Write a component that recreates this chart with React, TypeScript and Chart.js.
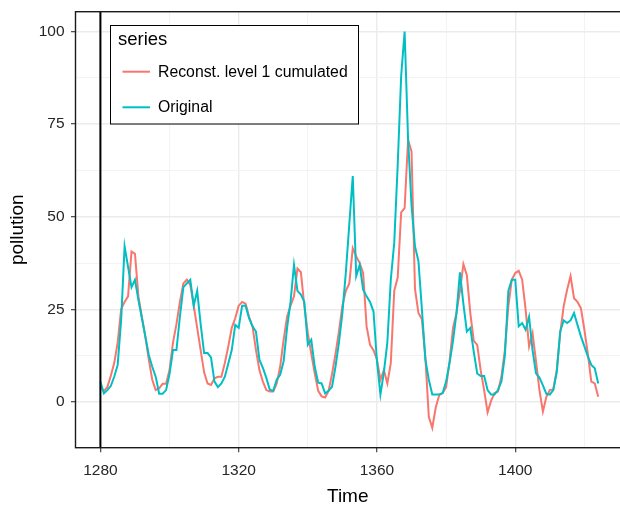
import React, { useEffect, useRef } from 'react';
import { Chart, registerables } from 'chart.js';

Chart.register(...registerables);

// ---- data ----
const startTime = 1280;
const original = [
  5.5, 2.3, 3.2, 4.3, 6.8, 10, 22, 42, 36.5, 31,
  33, 27.5, 22.6, 17.7, 12.7, 9.5, 6.8, 2.2, 2.2, 3.2,
  7.5, 14, 14, 23, 31, 32, 33, 26, 30, 21,
  13.2, 13.2, 12, 5.5, 4, 5, 6.8, 10.4, 14, 20.8,
  20, 26, 26, 22.6, 20.4, 19, 11.4, 9.2, 6.5, 3.3,
  3, 6, 7.3, 11, 20, 27, 37, 30, 29, 27,
  15.4, 16.8, 9.5, 5.2, 5, 2.3, 3, 4.1, 9.5, 16,
  24, 35, 48, 61, 34, 37, 30.3, 28.5, 27, 24.4,
  11, 2, 8, 16, 33, 43, 64, 88, 100, 71,
  53, 42, 38, 25, 11.5, 6, 2, 2, 2, 2.4,
  5.5, 10.5, 16.5, 24, 35, 26.5, 19, 20, 13.5, 7.7,
  7, 7, 3.2, 2, 2, 3.2, 5.5, 12.5, 30, 33,
  33, 20.4, 21.3, 19.5, 23, 14, 7.7, 6.6, 4.5, 2.2,
  2, 3.2, 8, 19, 22, 21.3, 22, 24, 20.8, 17.7,
  15, 12.3, 10, 9.1, 5,
];
const reconst = [
  4, 3, 4, 7, 10.5, 16, 25, 27, 28.5, 40.6,
  40, 28.5, 23, 17.6, 11.4, 6, 3.2, 3.7, 4.9, 4.9,
  8.6, 16, 21, 27, 32, 33, 31.6, 26, 20, 14,
  8, 5, 4.6, 6.4, 6.8, 6.8, 10.5, 15, 20, 22.6,
  26, 27, 26.5, 23, 20.4, 14, 8.6, 5.5, 3.2, 2.8,
  2.8, 5, 9.5, 16.8, 23, 26, 28.5, 36, 35, 25.8,
  18.6, 13, 7.7, 3, 1.5, 1.2, 3, 7.5, 13, 19,
  26, 30, 32, 41.5, 39.3, 37.5, 34.8, 20.4, 15.4, 14,
  11.4, 6, 8.6, 5, 10.5, 30, 33.6, 51.2, 52.3, 70.8,
  67.6, 30.5, 24, 22.3, 12, -4, -7, -1.5, 1.8, 2.4,
  4, 11, 20, 24, 30, 37.2, 34.2, 24, 16.5, 15.4,
  8.5, 3.2, -2.8, 0.3, 2.4, 2.8, 6.8, 14, 25.8, 33,
  34.8, 35.4, 33, 24.9, 15, 18.6, 11, 3.2, -2.6, 1.4,
  3.2, 3.4, 8.6, 18.6, 25.8, 30.3, 34, 28, 27, 25.3,
  19.5, 13, 5.5, 5, 1.4,
];
const seriesNames = ['Reconst. level 1 cumulated', 'Original'];
const seriesColors = ['#F8766D', '#00BFC4'];
const xMajorTicks = [1280, 1320, 1360, 1400];
const xMinorTicks = [1300, 1340, 1380, 1420];
const yMajorTicks = [0, 25, 50, 75, 100];
const yMinorTicks = [12.5, 37.5, 62.5, 87.5];
const vlineAt = 1280;

const FONT = '"Liberation Sans", Arial, Helvetica, sans-serif';

const toPoints = (vals: number[]) => vals.map((y, i) => ({ x: startTime + i, y }));

const isMajor = (list: number[], v: number) => list.some((m) => Math.abs(m - v) < 1e-6);

const decorPlugin = {
  id: 'ggDecor',
  afterDatasetsDraw(chart: any) {
    const { ctx, chartArea, scales } = chart;
    ctx.save();
    // vertical reference line
    const vx = scales.x.getPixelForValue(vlineAt);
    ctx.strokeStyle = '#000';
    ctx.lineWidth = 2;
    ctx.beginPath();
    ctx.moveTo(vx, chartArea.top);
    ctx.lineTo(vx, chartArea.bottom);
    ctx.stroke();
    // panel border
    ctx.lineWidth = 1.4;
    ctx.strokeStyle = '#1a1a1a';
    ctx.strokeRect(chartArea.left, chartArea.top, chartArea.right - chartArea.left + 20, chartArea.bottom - chartArea.top);
    ctx.restore();
  },
  afterDraw(chart: any) {
    const ctx = chart.ctx;
    ctx.save();
    const bx = 110.5, by = 25.5, bw = 248, bh = 98.5;
    ctx.fillStyle = '#ffffff';
    ctx.fillRect(bx, by, bw, bh);
    ctx.strokeStyle = '#000';
    ctx.lineWidth = 1;
    ctx.strokeRect(bx, by, bw, bh);
    ctx.fillStyle = '#000';
    ctx.textBaseline = 'middle';
    ctx.textAlign = 'left';
    ctx.font = `18.5px ${FONT}`;
    ctx.fillText('series', 118, 39.5);
    const rows = [71.7, 107.3];
    ctx.font = `15.8px ${FONT}`;
    seriesNames.forEach((name, i) => {
      ctx.strokeStyle = seriesColors[i];
      ctx.lineWidth = 2;
      ctx.beginPath();
      ctx.moveTo(122.5, rows[i]);
      ctx.lineTo(150, rows[i]);
      ctx.stroke();
      ctx.fillStyle = '#000';
      ctx.fillText(name, 158, rows[i] + 0.5);
    });
    ctx.restore();
  },
};

export default function App() {
  const canvasRef = useRef<HTMLCanvasElement | null>(null);

  useEffect(() => {
    if (!canvasRef.current) return;
    const chart = new Chart(canvasRef.current, {
      type: 'line',
      data: {
        datasets: [
          {
            label: seriesNames[1],
            data: toPoints(original),
            borderColor: seriesColors[1],
            borderWidth: 2,
            pointRadius: 0,
            tension: 0,
            fill: false,
          },
          {
            label: seriesNames[0],
            data: toPoints(reconst),
            borderColor: seriesColors[0],
            borderWidth: 2,
            pointRadius: 0,
            tension: 0,
            fill: false,
          },
        ],
      },
      options: {
        animation: false,
        responsive: false,
        maintainAspectRatio: false,
        parsing: false as any,
        layout: { padding: { top: 11.7, left: 0, right: 0, bottom: 0 } },
        plugins: {
          legend: { display: false },
          tooltip: { enabled: false },
        },
        scales: {
          x: {
            type: 'linear',
            min: 1272.8,
            max: 1430.3,
            afterBuildTicks: (scale: any) => {
              scale.ticks = [...xMajorTicks, ...xMinorTicks].sort((a, b) => a - b).map((v) => ({ value: v }));
            },
            afterFit: (scale: any) => {
              scale.height = 60.3;
              scale.paddingLeft = 0;
              scale.paddingRight = 0;
            },
            ticks: {
              autoSkip: false,
              maxRotation: 0,
              padding: 9,
              color: '#262626',
              font: { family: FONT, size: 15.5 },
              callback: (v: any) => (isMajor(xMajorTicks, Number(v)) ? String(v) : ''),
            },
            grid: {
              color: (c: any) => (isMajor(xMajorTicks, c.tick?.value) ? '#EBEBEB' : '#F2F2F2'),
              lineWidth: (c: any) => (isMajor(xMajorTicks, c.tick?.value) ? 1.4 : 0.9),
              tickColor: (c: any) => (isMajor(xMajorTicks, c.tick?.value) ? '#333333' : 'rgba(0,0,0,0)'),
              tickLength: 4.5,
              tickWidth: 1.1,
              drawTicks: true,
            },
            border: { display: false },
            title: {
              display: true,
              text: 'Time',
              color: '#000',
              font: { family: FONT, size: 19 },
              padding: { top: 0, bottom: 0 },
            },
          },
          y: {
            type: 'linear',
            min: -12.35,
            max: 105.35,
            afterBuildTicks: (scale: any) => {
              scale.ticks = [...yMajorTicks, ...yMinorTicks].sort((a, b) => a - b).map((v) => ({ value: v }));
            },
            afterFit: (scale: any) => {
              scale.width = 75.5;
              scale.paddingTop = 0;
              scale.paddingBottom = 0;
            },
            ticks: {
              autoSkip: false,
              padding: 6.5,
              color: '#262626',
              font: { family: FONT, size: 15.5 },
              callback: (v: any) => (isMajor(yMajorTicks, Number(v)) ? String(v) : ''),
            },
            grid: {
              color: (c: any) => (isMajor(yMajorTicks, c.tick?.value) ? '#EBEBEB' : '#F2F2F2'),
              lineWidth: (c: any) => (isMajor(yMajorTicks, c.tick?.value) ? 1.4 : 0.9),
              tickColor: (c: any) => (isMajor(yMajorTicks, c.tick?.value) ? '#333333' : 'rgba(0,0,0,0)'),
              tickLength: 4.5,
              tickWidth: 1.1,
              drawTicks: true,
            },
            border: { display: false },
            title: {
              display: true,
              text: 'pollution',
              color: '#000',
              font: { family: FONT, size: 19 },
              padding: { top: 6, bottom: 0 },
            },
          },
        },
      },
      plugins: [decorPlugin],
    } as any);
    return () => chart.destroy();
  }, []);

  return (
    <div style={{ position: 'fixed', left: 0, top: 0, width: 620, height: 508, background: '#fff' }}>
      <canvas ref={canvasRef} width={620} height={508} style={{ display: 'block', width: 620, height: 508 }} />
    </div>
  );
}
